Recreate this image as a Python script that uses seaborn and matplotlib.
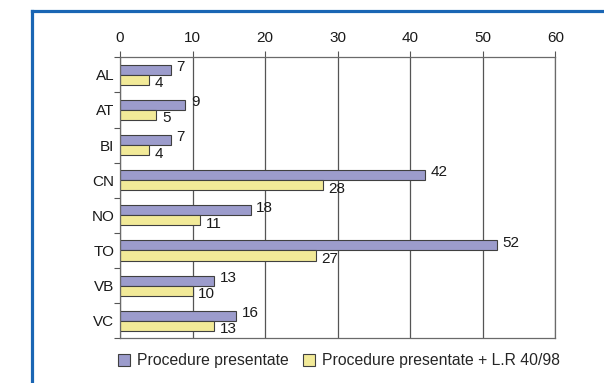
import matplotlib
matplotlib.use("Agg")
import matplotlib.pyplot as plt
from matplotlib.lines import Line2D
from matplotlib.ticker import FixedLocator
import seaborn as sns
import pandas as pd

# Provinces and the number of procedures submitted
provinces = ["AL", "AT", "BI", "CN", "NO", "TO", "VB", "VC"]
procedure_presentate = [7, 9, 7, 42, 18, 52, 13, 16]
procedure_lr = [4, 5, 4, 28, 11, 27, 10, 13]
series_names = ["Procedure presentate", "Procedure presentate + L.R 40/98"]
x_ticks = [0, 10, 20, 30, 40, 50, 60]

purple = "#9c9ccc"
yellow = "#f2ea98"

df = pd.DataFrame({
    "provincia": provinces * 2,
    "valore": procedure_presentate + procedure_lr,
    "serie": [series_names[0]] * len(provinces) + [series_names[1]] * len(provinces),
})

sns.set_style("white")
plt.rcParams["font.family"] = ["Liberation Sans", "DejaVu Sans"]

FS = 11

fig = plt.figure(figsize=(6.04, 3.83), dpi=100)
ax = fig.add_axes([0.1987, 0.1167, 0.9194 - 0.1987, 0.8504 - 0.1167])

sns.barplot(
    data=df, y="provincia", x="valore", hue="serie",
    orient="h", order=provinces, hue_order=series_names,
    palette=[purple, yellow], saturation=1, width=0.57, gap=0,
    edgecolor="#404040", linewidth=0.8, ax=ax, legend=True,
)

# value labels next to the bar ends
for cont, dy in zip(ax.containers, (2.0, -2.5)):
    for bar in cont:
        w = bar.get_width()
        yc = bar.get_y() + bar.get_height() / 2
        ax.annotate(f"{w:g}", xy=(w, yc), xytext=(4.0, dy), textcoords="offset points",
                    ha="left", va="center", fontsize=FS, color="#1a1a1a", zorder=5)

ax.set_xlim(0, 60)
ax.set_ylim(len(provinces) - 0.5, -0.5)
ax.set_xticks(x_ticks)
ax.xaxis.tick_top()
ax.xaxis.set_label_position("top")
ax.tick_params(axis="x", which="major", direction="out", length=4, width=0.8,
               color="#555555", labelsize=FS, pad=4.5, labelcolor="#1a1a1a")
ax.yaxis.set_minor_locator(FixedLocator([i - 0.5 for i in range(len(provinces) + 1)]))
ax.tick_params(axis="y", which="major", length=0, labelsize=FS, pad=4, labelcolor="#1a1a1a")
ax.tick_params(axis="y", which="minor", left=True, direction="out", length=4, width=0.8,
               color="#555555")
ax.set_xlabel("")
ax.set_ylabel("")

ax.grid(axis="x", color="#555555", linewidth=0.9)
ax.set_axisbelow(True)
for side in ("top", "bottom", "left", "right"):
    ax.spines[side].set_visible(True)
    ax.spines[side].set_color("#6a6a6a")
    ax.spines[side].set_linewidth(0.9)

leg = ax.legend(
    loc="center", bbox_to_anchor=(0.561, 0.0575), bbox_transform=fig.transFigure,
    ncol=2, frameon=False, fontsize=11.3, handlelength=0.75, handleheight=0.75,
    handletextpad=0.45, columnspacing=0.9, borderaxespad=0,
)
for h in leg.legend_handles:
    h.set_edgecolor("#404040")
    h.set_linewidth(0.8)

# blue page frame
frame_col = "#1a66b4"
fig.add_artist(Line2D([0.0538, 0.0538], [0.0, 0.9713], transform=fig.transFigure,
                      color=frame_col, linewidth=2.3, solid_capstyle="projecting"))
fig.add_artist(Line2D([0.0538, 1.0], [0.9713, 0.9713], transform=fig.transFigure,
                      color=frame_col, linewidth=2.3, solid_capstyle="projecting"))

fig.savefig("out.png", dpi=100)
